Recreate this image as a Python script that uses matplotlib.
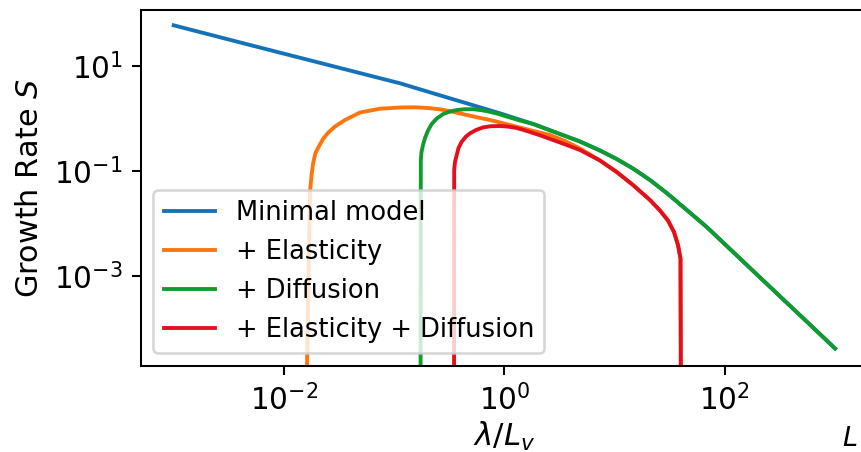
import matplotlib
matplotlib.use("Agg")
import matplotlib.pyplot as plt
from matplotlib.ticker import NullLocator, FixedLocator

# ---- data ----
labels = ["Minimal model", "+ Elasticity", "+ Diffusion", "+ Elasticity + Diffusion"]

# large-lambda branch shared by "Minimal model" and "+ Diffusion"
lam_tail = [1.828, 4.851, 7.363, 10.44, 14.67, 20.92, 29.66, 41.95, 68.40,
            137.1, 274.8, 552.1, 1000]
S_tail = [0.775, 0.3599, 0.2425, 0.1670, 0.1101, 0.06651, 0.03760, 0.02035,
          0.008465, 0.002126, 5.34e-4, 1.341e-4, 4.104e-5]

lam_minimal = [1.0e-3, 0.004925, 0.02444, 0.1130, 0.2265, 0.4550, 0.9122] + lam_tail
S_minimal = [58.8, 24.8, 10.5, 4.62, 2.98, 1.922, 1.240] + S_tail

lam_diffusion = [0.1734, 0.1745, 0.1770, 0.1827, 0.1905, 0.2028, 0.2191, 0.2431,
                 0.2791, 0.3210, 0.3693, 0.4391, 0.5223, 0.6222, 0.7404, 0.8749,
                 1.049, 1.385] + lam_tail
S_diffusion = [1e-6, 0.1599, 0.2271, 0.3087, 0.4196, 0.5831, 0.7753, 0.9869,
               1.202, 1.341, 1.433, 1.484, 1.484, 1.420, 1.324, 1.213,
               1.077, 0.9042] + S_tail

# large-lambda branch shared by "+ Elasticity" and "+ Elasticity + Diffusion"
lam_cut = [7.363, 10.44, 14.67, 20.92, 25.78, 30.47, 34.54, 37.55, 39.57, 40.0]
S_cut = [0.1564, 0.09445, 0.05340, 0.02766, 0.01745, 0.01125, 0.006800,
         0.003844, 0.002126, 1e-6]

lam_elastic = [0.01580, 0.01725, 0.01780, 0.01848, 0.01935, 0.02039, 0.02263, 0.02527,
               0.02907, 0.03582, 0.04899, 0.07438, 0.1130, 0.1546, 0.2028, 0.2606,
               0.3419, 0.4550, 0.5760, 0.7404, 0.9712, 1.293, 1.817, 2.592, 3.545,
               4.851] + lam_cut
S_elastic = [1e-6, 0.0398, 0.0828, 0.1464, 0.2174, 0.2706, 0.4016, 0.5341,
             0.6951, 0.9241, 1.284, 1.517, 1.599, 1.613, 1.564, 1.477,
             1.324, 1.151, 1.031, 0.9241, 0.8031, 0.6887, 0.5754, 0.4786, 0.3679,
             0.2648] + S_cut

lam_both = [0.3490, 0.3504, 0.3563, 0.3693, 0.3835, 0.4100, 0.4484, 0.4875, 0.5527,
            0.6437, 0.7558, 0.9122, 1.078, 1.293, 1.637, 2.103, 3.194, 4.851] + lam_cut
S_both = [1e-6, 0.1031, 0.1464, 0.1991, 0.2706, 0.3567, 0.4480, 0.5158, 0.5960,
          0.6710, 0.7039, 0.7101, 0.6918, 0.6506, 0.5628, 0.4723, 0.3445, 0.2479] + S_cut

x_ticks = [1e-2, 1e0, 1e2]
y_ticks = [1e1, 1e-1, 1e-3]

colors = ["#1473b8", "#ff750d", "#109b2d", "#e30f1f"]

# ---- figure ----
DPI = 185
fig = plt.figure(figsize=(861 / DPI, 452 / DPI), dpi=DPI)
ax = fig.add_axes([140.6 / 861, 1 - 365.7 / 452, 727.6 / 861, 355.7 / 452])

series = [(lam_minimal, S_minimal), (lam_elastic, S_elastic),
          (lam_diffusion, S_diffusion), (lam_both, S_both)]
for (x, y), lab, c in zip(series, labels, colors):
    ax.plot(x, y, color=c, label=lab, lw=1.5)

ax.set_xscale("log")
ax.set_yscale("log")
ax.set_xlim(10 ** -3.3, 10 ** 3.3)
ax.set_ylim(10 ** -4.714, 10 ** 2.061)
ax.xaxis.set_major_locator(FixedLocator(x_ticks))
ax.yaxis.set_major_locator(FixedLocator(y_ticks))
ax.xaxis.set_minor_locator(NullLocator())
ax.yaxis.set_minor_locator(NullLocator())
ax.tick_params(labelsize=11.5)

ax.set_xlabel(r"$\lambda/L_v$", fontsize=12, labelpad=1.5)
ax.set_ylabel(r"Growth Rate $S$", fontsize=11.8)
ax.legend(loc="lower left", fontsize=10)

fig.text(842 / 861, 6 / 452, r"$L$", ha="left", va="baseline", fontsize=10.5)

fig.savefig("out.png", dpi=DPI)
